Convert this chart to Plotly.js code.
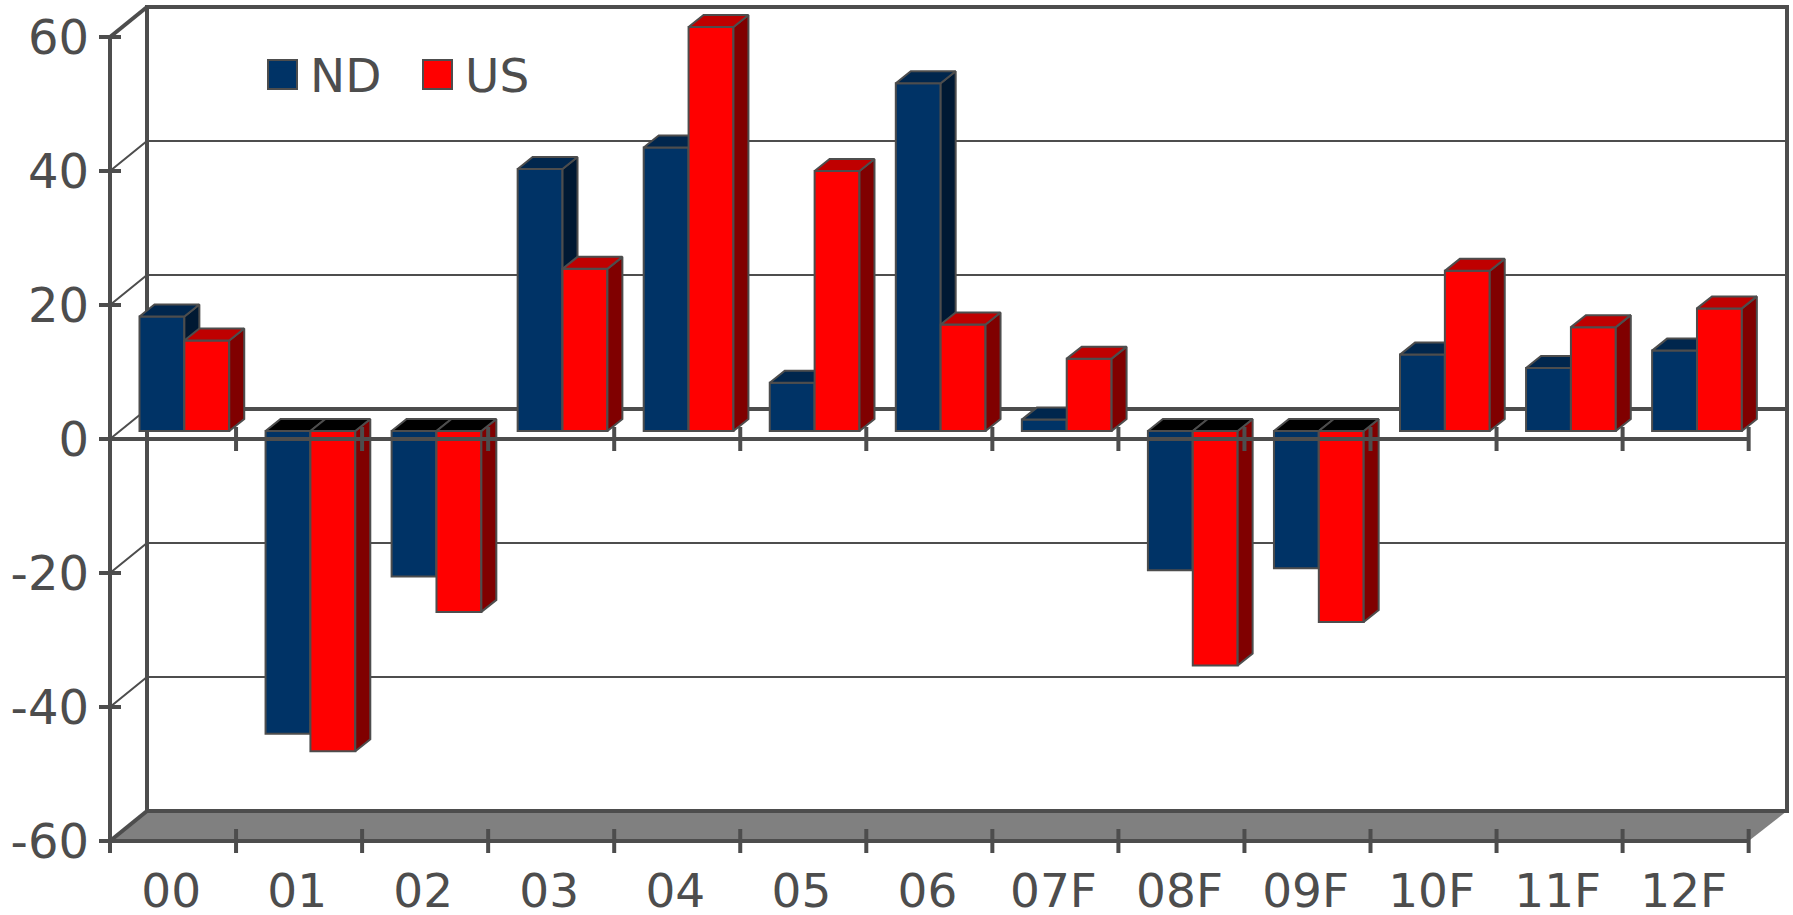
<!DOCTYPE html>
<html><head><meta charset="utf-8">
<script src="https://cdn.plot.ly/plotly-3.0.1.min.js"></script>
<style>html,body{margin:0;padding:0;background:#fff}</style></head>
<body><div id="chart" style="width:1793px;height:915px"></div>
<script>
const categories=["00","01","02","03","04","05","06","07F","08F","09F","10F","11F","12F"];
const ndValues=[17.1,-45.2,-21.7,39.1,42.3,7.2,51.9,1.7,-20.8,-20.5,11.4,9.4,12];
const usValues=[13.5,-47.8,-27,24.2,60.3,38.8,15.9,10.8,-35,-28.5,23.9,15.5,18.3];
const yTicks=[-60,-40,-20,0,20,40,60];

const ink="#4d4d4d", fontFace="DejaVu Sans, Verdana, sans-serif", xFont=47, yFont=48, legendFont=47;
const ndColors={front:"#003366",top:"#00264d",side:"#001933"};
const usColors={front:"#ff0000",top:"#bf0000",side:"#800000"};

// Plot box in page px, and the scale constants of the pseudo-3D frame
const L=90,R=1792,T=2,B=859, frontLeft=110, frontBottom=841;
const pxPerCat=126.05, pxPerUnit=6.7;
const wallDX=37/pxPerCat, wallDY=30/pxPerUnit;      // depth of the box
const barDX=15/pxPerCat, barDY=12/pxPerUnit;        // depth of one bar
const barBase=8/pxPerUnit;                          // bars stand a little behind the front plane
const barW=0.356, ndOff=-0.266, usOff=0.09;
const xLo=-0.5, xEnd=12.5, xHi=xLo+(1787-frontLeft)/pxPerCat;
const xRange=[xLo-(frontLeft-L)/pxPerCat, xLo+(R-frontLeft)/pxPerCat];
const yRange=[-60-(B-frontBottom)/pxPerUnit, -60+(frontBottom-T)/pxPerUnit];
const barRange=[yRange[0]-barBase,yRange[1]-barBase];

const skip={hoverinfo:"skip",showlegend:false};
function lines(x,y,w,yaxis){return Object.assign({type:"scatter",mode:"lines",x,y,yaxis:yaxis||"y",line:{color:ink,width:w}},skip);}
function polys(list,color,yaxis,lw){
  const x=[],y=[];
  list.forEach(p=>{p.forEach(q=>{x.push(q[0]);y.push(q[1]);});x.push(p[0][0],null);y.push(p[0][1],null);});
  return Object.assign({type:"scatter",mode:"lines",x,y,yaxis,fill:"toself",fillcolor:color,line:{color:ink,width:lw===undefined?2:lw}},skip);
}
function bar3d(name,vals,off,colors,yaxis){
  const top=[],side=[],neg=[];
  vals.forEach((v,i)=>{
    const l=i+off,r=l+barW,t=Math.max(v,0);
    const face=[[l,t],[l+barDX,t+barDY],[r+barDX,t+barDY],[r,t]];
    (v<0?neg:top).push(face);
    side.push([[r,0],[r+barDX,barDY],[r+barDX,v+barDY],[r,v]]);
  });
  return [
    {type:"bar",name,x:categories.map((c,i)=>i),y:vals,yaxis,offset:off,width:barW,showlegend:false,
     customdata:categories,hovertemplate:"%{customdata}: %{y}<extra>"+name+"</extra>",
     marker:{color:colors.front,line:{color:ink,width:2}}},
    polys(side,colors.side,yaxis),
    polys(top,colors.top,yaxis),
    polys(neg,"#000000",yaxis)
  ];
}

const traces=[];
// floor
traces.push(polys([[[xLo,-60],[xLo+wallDX,-60+wallDY],[xHi,-60+wallDY],[xEnd,-60]]],"#808080","y",0));
// back wall grid + diagonals
[-40,-20,20,40].forEach(v=>{
  traces.push(lines([xLo,xLo+wallDX,xHi],[v,v+wallDY,v+wallDY],2));
});
traces.push(lines([xLo,xLo+wallDX],[0,wallDY],2));
traces.push(lines([xLo+wallDX,xHi],[wallDY,wallDY],4));
// back frame and front axis
traces.push(lines([xLo+wallDX,xLo+wallDX,xHi,xHi,xLo+wallDX],[-60+wallDY,60+wallDY,60+wallDY,-60+wallDY,-60+wallDY],4));
traces.push(lines([xLo,xLo+wallDX],[60,60+wallDY],4));
traces.push(lines([xLo,xLo+wallDX],[-60,-60+wallDY],4));
traces.push(lines([xLo,xLo],[-60-12/pxPerUnit,60],4));
traces.push(lines([xLo,xEnd],[-60,-60],4));
// bars
traces.push(...bar3d("ND",ndValues,ndOff,ndColors,"y2"));
traces.push(...bar3d("US",usValues,usOff,usColors,"y3"));
// marks that lie in front of the bars
const tx=[],ty=[],tickLen=12/pxPerUnit;
categories.concat("").forEach((c,i)=>{
  [0,-60].forEach(b=>{tx.push(i+xLo,i+xLo,null);ty.push(b-tickLen,b+tickLen,null);});
});
traces.push(lines(tx,ty,4,"y4"));
const ix=[],iy=[];
yTicks.forEach(v=>{ix.push(xLo-11/pxPerCat,xLo+11/pxPerCat,null);iy.push(v,v,null);});
traces.push(lines(ix,iy,4,"y4"));
traces.push(lines([xLo,xEnd],[0,0],4,"y4"));
// legend entries
[["ND",ndColors.front],["US",usColors.front]].forEach(e=>{
  traces.push({type:"scatter",mode:"markers",name:e[0],x:[null],y:[null],yaxis:"y4",
    marker:{symbol:"square",size:14,color:e[1]},hoverinfo:"skip",showlegend:true});
});

const px=v=>(v-L)/(R-L), py=v=>1-(v-T)/(B-T);
function swatch(x0,color){return {type:"rect",xref:"paper",yref:"paper",x0:px(x0),x1:px(x0+29),y0:py(89),y1:py(60),
  fillcolor:color,line:{color:ink,width:2},layer:"above"};}
const layout={
  width:1793,height:915,autosize:false,
  margin:{l:L,r:1793-R,t:T,b:915-B,pad:0},
  paper_bgcolor:"#fff",plot_bgcolor:"#fff",
  font:{family:fontFace,size:xFont,color:ink},
  barmode:"overlay",
  xaxis:{type:"linear",range:xRange,tickmode:"array",tickvals:categories.map((c,i)=>i-0.015),ticktext:categories,
    ticks:"",showgrid:false,zeroline:false,showline:false,ticklabelstandoff:0,tickfont:{family:fontFace,size:xFont,color:ink}},
  yaxis:{range:yRange,tickmode:"array",tickvals:yTicks,ticktext:yTicks.map(String),ticks:"",
    showgrid:false,zeroline:false,showline:false,ticklabelstandoff:0,tickfont:{family:fontFace,size:yFont,color:ink}},
  yaxis2:{range:barRange,overlaying:"y",visible:false,showgrid:false,zeroline:false},
  yaxis3:{range:barRange,overlaying:"y",visible:false,showgrid:false,zeroline:false},
  yaxis4:{range:yRange,overlaying:"y",visible:false,showgrid:false,zeroline:false},
  showlegend:true,
  legend:{orientation:"h",x:px(250),xanchor:"left",y:py(37),yanchor:"top",bgcolor:"rgba(0,0,0,0)",borderwidth:0,
    itemwidth:50,entrywidth:90,entrywidthmode:"pixels",font:{family:fontFace,size:legendFont,color:ink},itemclick:false,itemdoubleclick:false},
  shapes:[swatch(268,ndColors.front),swatch(423,usColors.front)]
};
Plotly.newPlot("chart",traces,layout,{displayModeBar:false,responsive:false});
</script></body></html>
